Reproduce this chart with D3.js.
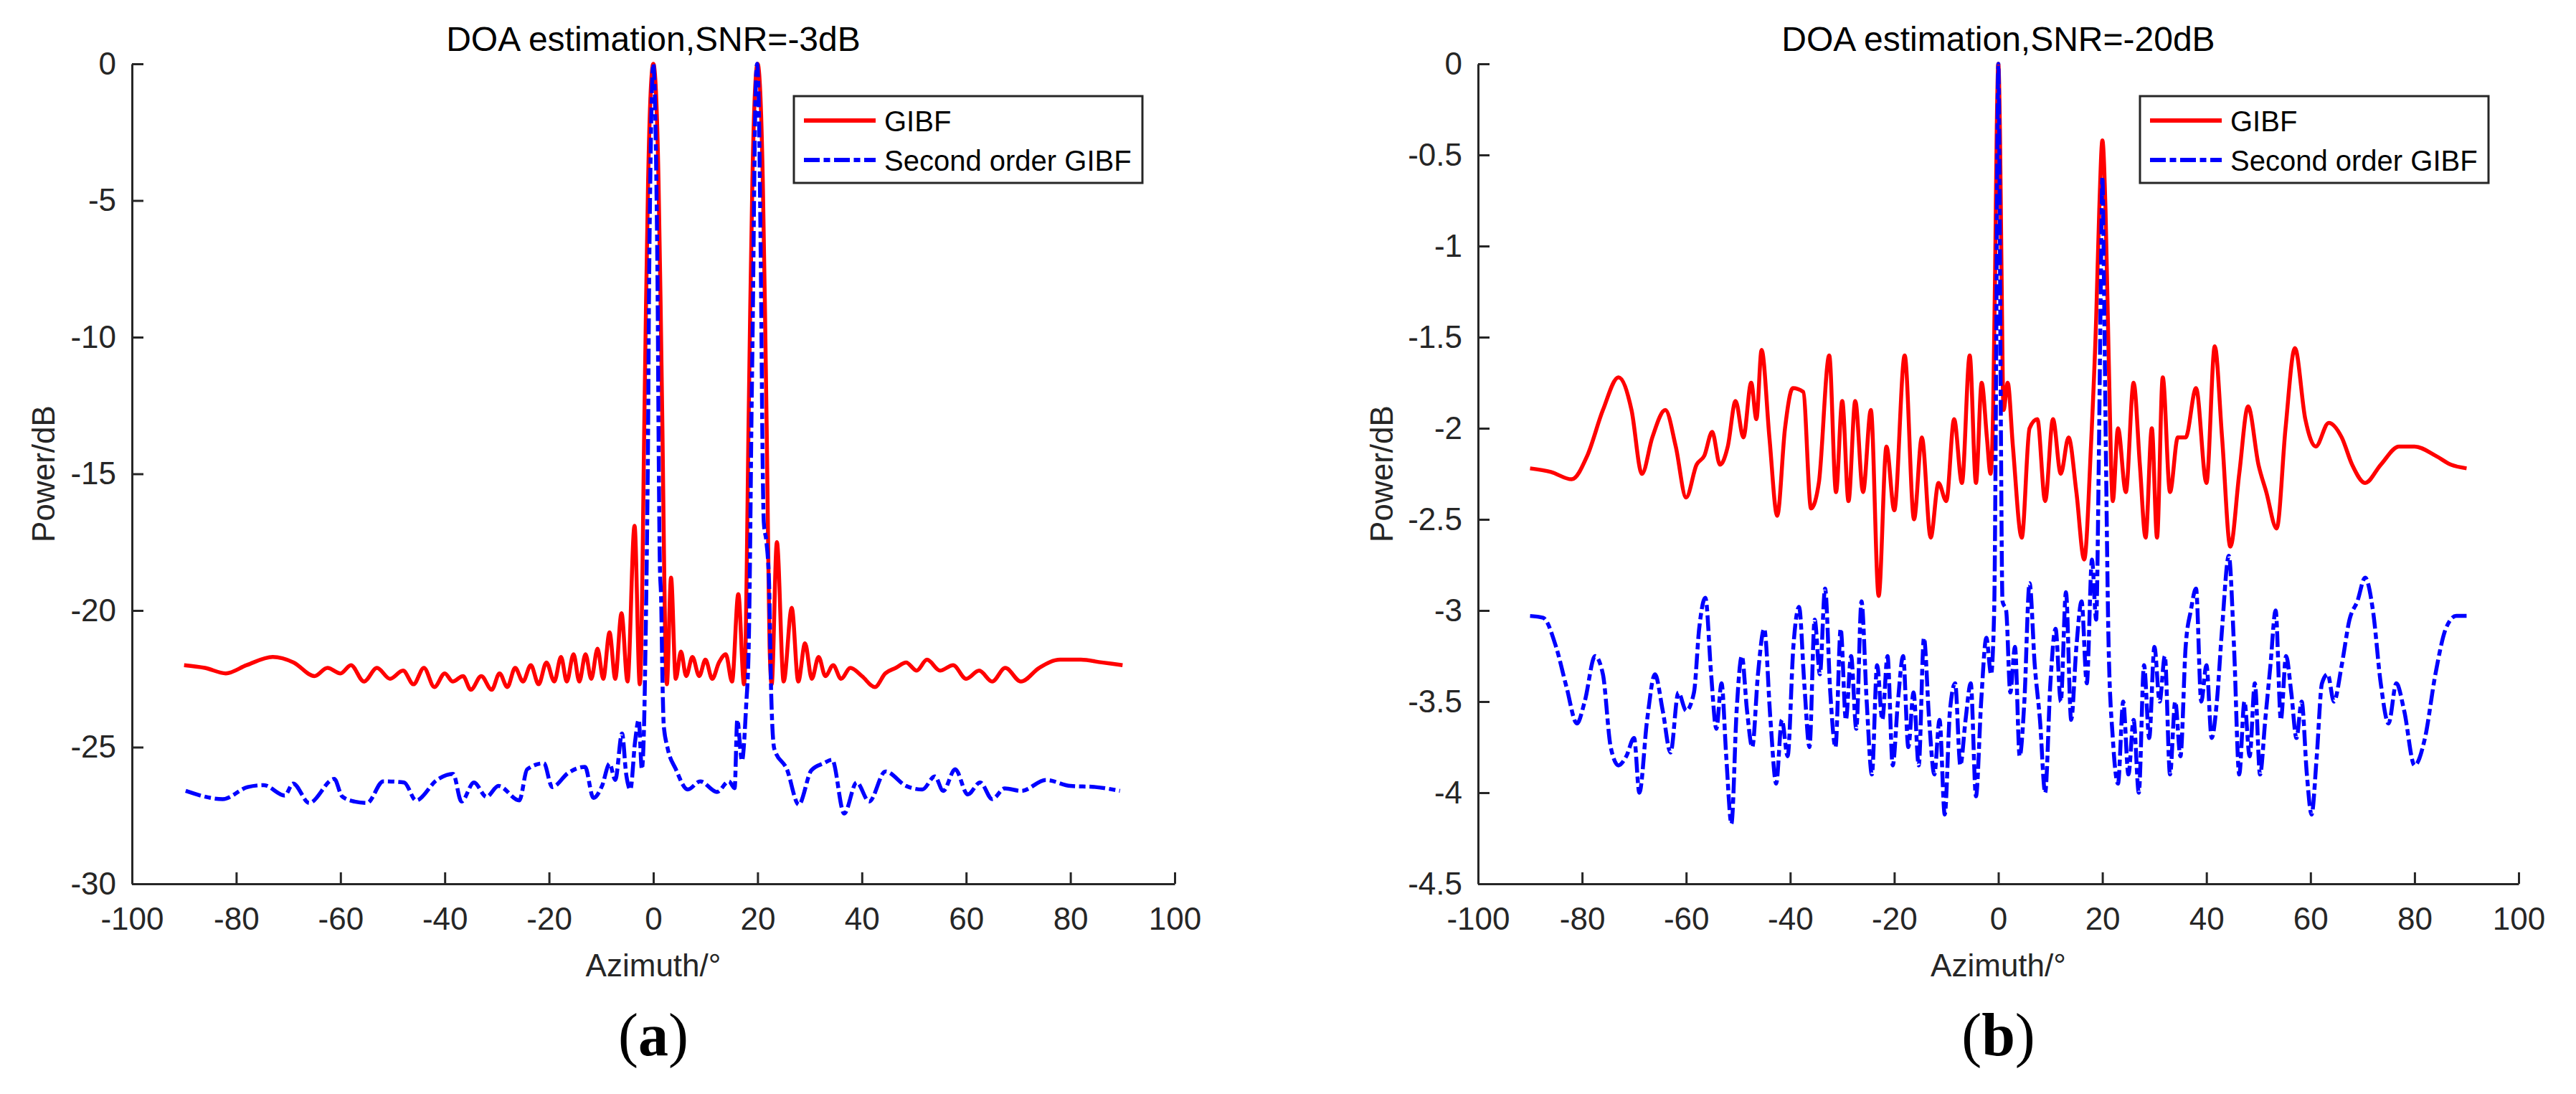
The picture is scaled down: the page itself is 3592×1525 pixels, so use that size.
<!DOCTYPE html>
<html>
<head>
<meta charset="utf-8">
<script src="https://cdn.jsdelivr.net/npm/d3@7"></script>
<style>
  body { margin: 0; background: #fff; }
  text { font-family: "Liberation Sans", Arial, sans-serif; }
</style>
</head>
<body>
<script>
// tick labels
const xTicks = [-100, -80, -60, -40, -20, 0, 20, 40, 60, 80, 100];
const yTicksA = [0, -5, -10, -15, -20, -25, -30];
const yTicksB = [0, -0.5, -1, -1.5, -2, -2.5, -3, -3.5, -4, -4.5];

const legendNames = ["GIBF", "Second order GIBF"];
const titles = ["DOA estimation,SNR=-3dB", "DOA estimation,SNR=-20dB"];

// (a) SNR=-3dB, GIBF
const azRedA = [-90, -86, -82, -78, -73, -69, -65, -62.5, -60, -58, -55.5, -53, -50.5, -48, -46, -44, -42, -40,
  -38.5, -36.5, -35, -33, -31, -29.5, -28, -26.5, -25, -23.5, -22, -20.5, -19, -17.7, -16.6, -15.3, -14.2, -13,
  -11.9, -10.7, -9.6, -8.4, -7.3, -6.1, -4.95, -3.6, -2.6, -2.3, -2.05, -1.75, -1.4, -1, -0.5, 0, 0.5, 1, 1.4,
  1.75, 2.05, 2.3, 2.6, 3.4, 4.3, 5.3, 6.3, 7.5, 8.8, 10, 11.3, 12.6, 13.9, 15.1, 16.3, 17.4, 17.7, 17.95, 18.25,
  18.6, 19, 19.5, 20, 20.5, 21, 21.4, 21.75, 22.05, 22.3, 22.7, 23.7, 25, 26.55, 27.8, 29.1, 30.4, 31.7, 33, 34.5,
  36, 37.8, 40, 42.5, 44.5, 46.5, 48.5, 50.5, 52.5, 55, 57.5, 60, 62.5, 65, 67.5, 70.5, 74, 78, 82, 86, 90];
const pwRedA = [-22.0, -22.1, -22.3, -22.0, -21.7, -21.9, -22.4, -22.1, -22.3, -22.0, -22.6, -22.1, -22.5, -22.2,
  -22.7, -22.1, -22.8, -22.3, -22.6, -22.4, -22.9, -22.4, -22.9, -22.3, -22.8, -22.1, -22.6, -22.0, -22.7, -21.9,
  -22.6, -21.7, -22.6, -21.6, -22.6, -21.6, -22.5, -21.4, -22.5, -20.8, -22.5, -20.1, -22.6, -16.9, -22.7, -21.3,
  -18, -13.4, -8.8, -4.3, -1.0, 0, -1.0, -4.3, -8.8, -13.4, -18, -21.3, -22.7, -18.8, -22.5, -21.5, -22.4, -21.7,
  -22.4, -21.8, -22.5, -21.9, -21.6, -22.6, -19.4, -22.7, -21.3, -18, -13.4, -8.8, -4.3, -1.0, 0, -1.0, -4.3, -8.8,
  -13.4, -18, -21.3, -22.7, -17.5, -22.6, -19.9, -22.6, -21.2, -22.5, -21.7, -22.4, -22.0, -22.5, -22.1, -22.4,
  -22.8, -22.3, -22.1, -21.9, -22.2, -21.8, -22.2, -22.0, -22.5, -22.2, -22.6, -22.1, -22.6, -22.1, -21.8, -21.8,
  -21.9, -22.0];

// (a) SNR=-3dB, second order GIBF
const azBlueA = [-89.7, -82.6, -77.8, -74.7, -70.7, -69.1, -66, -61.2, -59.7, -57.3, -54.9, -51.8, -47.8, -45.5,
  -41.5, -38.4, -36.8, -34.4, -32, -29.7, -25.7, -24.2, -21, -19.4, -16.3, -13.1, -11.5, -9.8, -8.4, -7.3, -6,
  -5.2, -4.4, -3.5, -2.8, -2.2, -1.75, -1.5, -1.25, -1, -0.85, -0.6, -0.3, 0, 0.3, 0.6, 0.85, 1, 1.25, 1.5, 1.75,
  2, 2.7, 4.3, 6.6, 9, 12.2, 14.5, 15.6, 16.1, 17, 17.8, 18.3, 18.55, 18.8, 19.1, 19.35, 19.6, 19.9, 20.2, 20.45,
  20.7, 20.9, 21.2, 21.7, 22.2, 22.6, 23.2, 25.6, 27.9, 30.3, 32.7, 34.3, 36.6, 39, 41.4, 44.5, 48.5, 51.6, 54,
  55.6, 57.9, 60.3, 62.7, 65, 67.4, 70.6, 75.3, 80, 84.8, 89.5];
const pwBlueA = [-26.6, -26.9, -26.46, -26.39, -26.77, -26.33, -27.04, -26.16, -26.8, -26.99, -27.04, -26.25,
  -26.29, -26.95, -26.2, -25.98, -26.99, -26.29, -26.82, -26.42, -26.95, -25.81, -25.59, -26.46, -25.94, -25.72,
  -26.86, -26.4, -25.6, -26.2, -24.5, -26.0, -26.55, -24.8, -24.0, -25.8, -24.0, -21.3, -18, -13.4, -9, -4.5,
  -1.2, 0, -1.2, -4.5, -9, -13.4, -18.3, -19.6, -22.5, -24.2, -25.0, -25.8, -26.55, -26.25, -26.64, -26.25, -26.5,
  -24.0, -25.5, -23.5, -21.3, -18, -13.4, -9, -4.5, -1.2, 0, -1.2, -4.5, -9, -13.4, -16.8, -17.5, -19, -23,
  -25.06, -25.8, -27.1, -25.85, -25.59, -25.46, -27.43, -26.29, -26.99, -25.89, -26.42, -26.55, -26.07, -26.6,
  -25.81, -26.73, -26.29, -26.9, -26.51, -26.6, -26.2, -26.42, -26.46, -26.6];

// (b) SNR=-20dB, GIBF
const azRedB = [-90, -86, -82, -79, -76, -73, -70.5, -68.5, -66.5, -64, -62, -60, -58, -56.5, -55, -53.5, -52,
  -50.5, -49, -47.5, -46.5, -45.5, -44, -42.5, -41, -39.5, -37.5, -36, -34.5, -32.5, -31.2, -30, -28.8, -27.5,
  -26, -24.5, -23, -21.5, -20, -18, -16.2, -14.7, -13, -11.5, -10, -8.5, -7, -5.5, -4.3, -3.2, -2.2, -1.5, -1,
  -0.6, -0.3, 0, 0.3, 0.6, 1, 1.8, 2.8, 4.5, 6, 7.5, 9, 10.5, 12, 13.5, 15, 16.5, 17.8, 18.8, 19.4, 20, 20.6,
  21.2, 22, 23, 24.5, 26, 27.2, 28.3, 29.5, 30.5, 31.6, 33, 34.5, 36, 38, 40, 41.6, 43, 44.6, 46.3, 48, 50, 51.5,
  53.5, 55.2, 57, 59, 61, 63.5, 66, 68, 70.5, 73.5, 77, 80, 84, 87, 90];
const pwRedB = [-2.22, -2.24, -2.28, -2.15, -1.9, -1.72, -1.9, -2.25, -2.05, -1.9, -2.1, -2.38, -2.2, -2.15,
  -2.02, -2.2, -2.1, -1.85, -2.05, -1.75, -1.95, -1.57, -2.05, -2.48, -2.0, -1.78, -1.8, -2.44, -2.3, -1.6, -2.35,
  -1.85, -2.4, -1.85, -2.35, -1.9, -2.92, -2.1, -2.45, -1.6, -2.5, -2.05, -2.6, -2.3, -2.4, -1.95, -2.3, -1.6,
  -2.3, -1.75, -2.05, -2.25, -1.9, -1.1, -0.35, 0, -0.35, -1.1, -1.9, -1.75, -2.1, -2.6, -2.0, -1.95, -2.4, -1.95,
  -2.25, -2.05, -2.35, -2.72, -2.1, -1.4, -0.8, -0.42, -0.8, -1.6, -2.4, -2.0, -2.35, -1.75, -2.2, -2.6, -2.0,
  -2.6, -1.72, -2.35, -2.05, -2.05, -1.78, -2.3, -1.55, -2.05, -2.65, -2.25, -1.88, -2.2, -2.35, -2.55, -2.0,
  -1.56, -1.95, -2.1, -1.97, -2.05, -2.2, -2.3, -2.2, -2.1, -2.1, -2.15, -2.2, -2.22];

// (b) SNR=-20dB, second order GIBF
const azBlueB = [-90, -87.5, -85, -83, -81, -79.5, -77.5, -76, -74.5, -73, -71.5, -70, -69, -67.5, -66, -64.5,
  -63, -61.5, -60, -58.5, -57.5, -56.3, -55.2, -54.2, -53.2, -52.3, -51.3, -50.3, -49.3, -48.3, -47.3, -46.2,
  -45, -43.8, -42.7, -41.6, -40.5, -39.4, -38.3, -37.3, -36.3, -35.3, -34.3, -33.3, -32.3, -31.3, -30.3, -29.3,
  -28.3, -27.3, -26.3, -25.3, -24.3, -23.3, -22.3, -21.3, -20.3, -19.3, -18.3, -17.3, -16.3, -15.3, -14.3, -13.3,
  -12.3, -11.3, -10.3, -9.3, -8.3, -7.3, -6.3, -5.3, -4.3, -3.3, -2.3, -1.4, -0.8, -0.45, -0.2, 0, 0.2, 0.45,
  0.8, 1.5, 2.3, 3.2, 4.1, 5, 6, 7, 8, 9, 10, 11, 12, 13, 14, 15, 16, 17, 18, 18.8, 19.3, 19.7, 20, 20.3, 20.7,
  21.2, 22, 23, 24, 25, 26, 27, 28, 29, 30, 31, 32, 33, 34, 35, 36, 37, 38, 39, 40, 41, 42, 43, 44.3, 45.3, 46.3,
  47.3, 48.3, 49.3, 50.3, 51.3, 52.3, 53.3, 54.3, 55.3, 56.3, 57.3, 58.3, 59.3, 60.2, 61.2, 62.2, 63.3, 64.5, 66,
  67.5, 69, 70.5, 72, 73.5, 75, 76.5, 78, 80, 82, 84, 86, 88, 90];
const pwBlueB = [-3.03, -3.04, -3.2, -3.42, -3.62, -3.5, -3.25, -3.35, -3.75, -3.85, -3.8, -3.7, -4.0, -3.6,
  -3.35, -3.55, -3.78, -3.45, -3.55, -3.45, -3.1, -2.93, -3.35, -3.65, -3.4, -3.8, -4.17, -3.55, -3.25, -3.55,
  -3.75, -3.35, -3.1, -3.6, -3.95, -3.6, -3.8, -3.2, -2.98, -3.4, -3.75, -3.05, -3.35, -2.88, -3.45, -3.75, -3.1,
  -3.6, -3.25, -3.65, -2.95, -3.5, -3.9, -3.3, -3.6, -3.25, -3.85, -3.5, -3.25, -3.75, -3.45, -3.85, -3.15, -3.6,
  -3.9, -3.6, -4.12, -3.55, -3.4, -3.85, -3.6, -3.4, -4.02, -3.5, -3.15, -3.35, -3.0, -1.8, -0.5, 0, -0.5, -1.8,
  -2.95, -3.0, -3.45, -3.2, -3.8, -3.5, -2.85, -3.3, -3.6, -4.0, -3.4, -3.1, -3.5, -2.9, -3.6, -3.2, -2.95, -3.4,
  -2.72, -3.05, -2.2, -1.2, -0.62, -1.2, -2.2, -3.2, -3.7, -3.95, -3.5, -3.9, -3.6, -4.0, -3.3, -3.7, -3.2, -3.5,
  -3.25, -3.9, -3.5, -3.8, -3.2, -3.0, -2.88, -3.5, -3.3, -3.7, -3.5, -3.1, -2.7, -3.2, -3.9, -3.5, -3.8, -3.4,
  -3.9, -3.6, -3.3, -3.0, -3.6, -3.25, -3.45, -3.7, -3.5, -3.9, -4.12, -3.8, -3.4, -3.35, -3.5, -3.3, -3.05,
  -2.95, -2.82, -3.0, -3.4, -3.62, -3.4, -3.55, -3.85, -3.7, -3.35, -3.1, -3.03, -3.03];

const W = 3592, H = 1525;
const axisColor = "#262626";

const svg = d3.select("body").append("svg")
    .attr("width", W)
    .attr("height", H)
    .style("background", "#fff");

function drawPanel(p) {
    const x = d3.scaleLinear().domain([-100, 100]).range([p.left, p.right]);
    const y = d3.scaleLinear().domain(p.yDomain).range([p.bottom, p.top]);
    const g = svg.append("g");

    // axes, MATLAB style: ticks inside, no box
    const xAxis = g.append("g")
        .attr("transform", `translate(0,${p.bottom})`)
        .call(d3.axisBottom(x).tickValues(xTicks).tickFormat(d => String(d))
            .tickSizeInner(-16).tickSizeOuter(0).tickPadding(33));
    const yAxis = g.append("g")
        .attr("transform", `translate(${p.left},0)`)
        .call(d3.axisLeft(y).tickValues(p.yTicks).tickFormat(d => String(d))
            .tickSizeInner(-16).tickSizeOuter(0).tickPadding(22));

    [xAxis, yAxis].forEach(a => {
        a.select(".domain").attr("stroke", axisColor).attr("stroke-width", 3);
        a.selectAll(".tick line").attr("stroke", axisColor).attr("stroke-width", 3);
        a.selectAll(".tick text")
            .attr("fill", axisColor)
            .style("font-family", "'Liberation Sans', Arial, sans-serif")
            .style("font-size", "44px");
    });

    const line = d3.line()
        .x(d => x(d[0]))
        .y(d => y(d[1]))
        .curve(d3.curveMonotoneX);

    g.append("path")
        .datum(d3.zip(p.azRed, p.pwRed))
        .attr("fill", "none")
        .attr("stroke", "#ff0000")
        .attr("stroke-width", 5.5)
        .attr("stroke-linejoin", "round")
        .attr("d", line);

    g.append("path")
        .datum(d3.zip(p.azBlue, p.pwBlue))
        .attr("fill", "none")
        .attr("stroke", "#0000ff")
        .attr("stroke-width", 5.5)
        .attr("stroke-dasharray", "22,5.5,9,5.5")
        .attr("d", line);

    const cx = (p.left + p.right) / 2;

    // title
    g.append("text")
        .attr("x", cx).attr("y", 71)
        .attr("text-anchor", "middle")
        .attr("fill", "#000")
        .style("font-size", "48px")
        .text(p.title);

    // axis labels
    g.append("text")
        .attr("x", cx).attr("y", 1361)
        .attr("text-anchor", "middle")
        .attr("fill", axisColor)
        .style("font-size", "44px")
        .text("Azimuth/°");

    g.append("text")
        .attr("transform", `translate(${p.ylabelX},${(p.top + p.bottom) / 2}) rotate(-90)`)
        .attr("text-anchor", "middle")
        .attr("fill", axisColor)
        .style("font-size", "44px")
        .text("Power/dB");

    // legend
    const lx = p.legendX, ly = 134;
    const leg = g.append("g");
    leg.append("rect")
        .attr("x", lx).attr("y", ly)
        .attr("width", 486).attr("height", 121)
        .attr("fill", "#fff")
        .attr("stroke", axisColor)
        .attr("stroke-width", 3);
    const rows = [
        { name: legendNames[0], color: "#ff0000", dash: null, y: ly + 34 },
        { name: legendNames[1], color: "#0000ff", dash: "22,5.5,9,5.5", y: ly + 89 }
    ];
    rows.forEach(r => {
        leg.append("line")
            .attr("x1", lx + 14).attr("x2", lx + 114)
            .attr("y1", r.y).attr("y2", r.y)
            .attr("stroke", r.color)
            .attr("stroke-width", 6)
            .attr("stroke-dasharray", r.dash);
        leg.append("text")
            .attr("x", lx + 126).attr("y", r.y + 15)
            .attr("fill", "#000")
            .style("font-size", "40px")
            .text(r.name);
    });

    // sub-figure caption
    const cap = g.append("text")
        .attr("x", cx).attr("y", 1471)
        .attr("text-anchor", "middle")
        .attr("fill", "#000")
        .style("font-family", "'Liberation Serif', 'DejaVu Serif', serif")
        .style("font-size", "84px");
    cap.append("tspan").text("(");
    cap.append("tspan").style("font-weight", "bold").text(p.caption);
    cap.append("tspan").text(")");
}

drawPanel({
    left: 184, right: 1638, top: 89, bottom: 1232,
    yDomain: [-30, 0], yTicks: yTicksA,
    azRed: azRedA, pwRed: pwRedA, azBlue: azBlueA, pwBlue: pwBlueA,
    title: titles[0], ylabelX: 76, legendX: 1107, caption: "a"
});

drawPanel({
    left: 2061, right: 3512, top: 89, bottom: 1232,
    yDomain: [-4.5, 0], yTicks: yTicksB,
    azRed: azRedB, pwRed: pwRedB, azBlue: azBlueB, pwBlue: pwBlueB,
    title: titles[1], ylabelX: 1942, legendX: 2984, caption: "b"
});
</script>
</body>
</html>
